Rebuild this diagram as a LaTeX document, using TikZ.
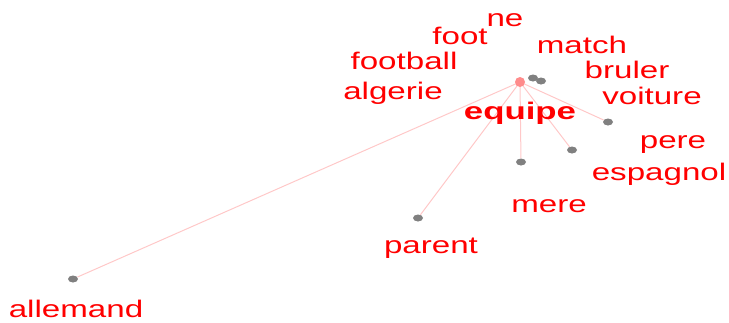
\documentclass[tikz,border=0pt]{standalone}
\usepackage{fontspec}
\newfontfamily\labfont[FakeStretch=1.38]{Liberation Sans}
\newfontfamily\labbold[FakeStretch=1.45]{Liberation Sans Bold}
\definecolor{labred}{RGB}{255,0,0}
\definecolor{edgepink}{RGB}{255,200,200}
\definecolor{dotgray}{RGB}{128,128,128}
\definecolor{centerpink}{RGB}{255,140,140}
\tikzset{
  lab/.style={anchor=base, inner sep=0pt, text=labred, font=\labfont\fontsize{24}{24}\selectfont},
  labb/.style={anchor=base, inner sep=0pt, text=labred, font=\labbold\fontsize{24}{24}\selectfont},
  gdot/.style={ellipse, fill=dotgray, minimum width=10pt, minimum height=7pt, inner sep=0pt},
  cdot/.style={circle, fill=centerpink, minimum size=10pt, inner sep=0pt},
  edge/.style={draw=edgepink, line width=1pt}
}
\usetikzlibrary{shapes.geometric}
\begin{document}
\begin{tikzpicture}[x=1pt,y=-1pt]
\useasboundingbox (0,0) rectangle (729,322);
% dots
\node[gdot] (g1) at (533,78) {};
\node[gdot] (g2) at (541,81) {};
\node[gdot] (voit) at (608,122) {};
\node[gdot] (esp) at (572,150) {};
\node[gdot] (mer) at (521,162) {};
\node[gdot] (par) at (418,218) {};
\node[gdot] (all) at (73,279) {};
% edges
\coordinate (c) at (520,82);
\foreach \t in {voit,esp,mer,par,all} \draw[edge] (c) -- (\t);
\node[cdot] (ctr) at (c) {};
% labels
\node[lab] (lne) at (505,26) {ne};
\node[lab] (lfoot) at (460,44) {foot};
\node[lab] (lmatch) at (582,53) {match};
\node[lab] (lfootball) at (404,69) {football};
\node[lab] (lbruler) at (627,78) {bruler};
\node[lab] (lalgerie) at (393,99) {algerie};
\node[lab] (lvoiture) at (652,104) {voiture};
\node[labb] (lequipe) at (520,119) {equipe};
\node[lab] (lpere) at (673,148) {pere};
\node[lab] (lespagnol) at (659,180) {espagnol};
\node[lab] (lmere) at (549,212) {mere};
\node[lab] (lparent) at (431,253) {parent};
\node[lab] (lallemand) at (76,317) {allemand};
\end{tikzpicture}
\end{document}
